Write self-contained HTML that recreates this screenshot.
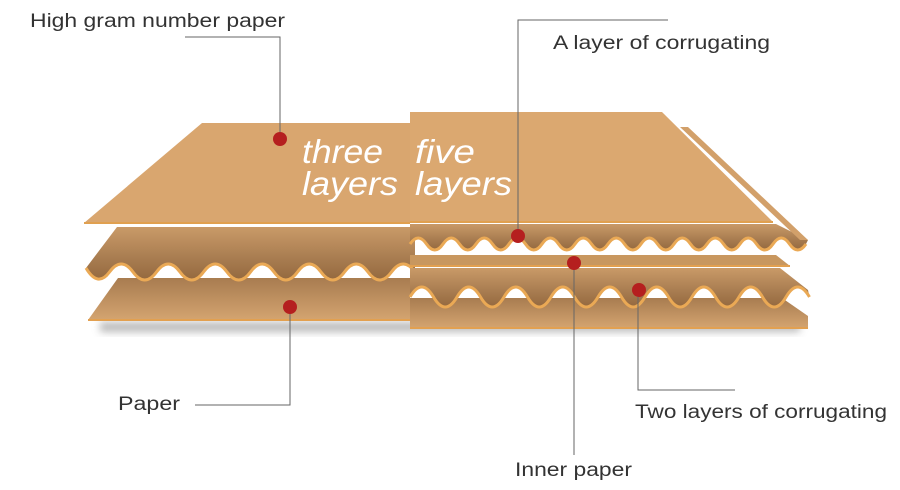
<!DOCTYPE html>
<html><head><meta charset="utf-8"><style>
html,body{margin:0;padding:0;background:#fff;}
svg{display:block;}
text{font-family:"Liberation Sans",sans-serif;}
</style></head><body>
<svg width="900" height="490" viewBox="0 0 900 490" xmlns="http://www.w3.org/2000/svg">
<defs>
<linearGradient id="corr" x1="0" y1="0" x2="0" y2="1">
<stop offset="0" stop-color="#c99a68"/><stop offset="0.6" stop-color="#a87c50"/><stop offset="1" stop-color="#94693f"/>
</linearGradient>
<linearGradient id="bot" x1="0" y1="0" x2="0" y2="1">
<stop offset="0" stop-color="#a87c50"/><stop offset="1" stop-color="#d4a470"/>
</linearGradient>
<filter id="sh" x="-10%" y="-50%" width="120%" height="200%"><feGaussianBlur stdDeviation="4"/></filter>
</defs>
<rect x="100" y="322" width="700" height="10" fill="#777" opacity="0.5" filter="url(#sh)"/>

<!-- LEFT: three layers -->
<polygon points="118,278 410,278 410,320 88,320" fill="url(#bot)"/>
<line x1="88" y1="320" x2="410" y2="320" stroke="#e2a050" stroke-width="2"/>
<path d="M86,268 Q97.75,288 109.5,272 T133,272 T156.5,272 T180,272 T203.5,272 T227,272 T250.5,272 T274,272 T297.5,272 T321,272 T344.5,272 T368,272 T391.5,272 T415,272 L415,227 L117,227 Z" fill="url(#corr)"/>
<path d="M86,268 Q97.75,288 109.5,272 T133,272 T156.5,272 T180,272 T203.5,272 T227,272 T250.5,272 T274,272 T297.5,272 T321,272 T344.5,272 T368,272 T391.5,272 T415,272" fill="none" stroke="#eaa955" stroke-width="3"/>
<polygon points="202,123 410,123 410,223 84,223" fill="#d9a66f"/>
<line x1="84" y1="223" x2="410" y2="223" stroke="#e0a050" stroke-width="2"/>

<!-- RIGHT: five layers -->
<polygon points="410,298 782,298 808,316 808,328 410,328" fill="url(#bot)"/>
<line x1="410" y1="328" x2="808" y2="328" stroke="#e2a050" stroke-width="2"/>
<path d="M410,297 Q421.75,277 433.5,297 T457,297 T480.5,297 T504,297 T527.5,297 T551,297 T574.5,297 T598,297 T621.5,297 T645,297 T668.5,297 T692,297 T715.5,297 T739,297 T762.5,297 T786,297 T809.5,297 L808,290 L780,268 L410,268 Z" fill="url(#corr)"/>
<path d="M410,297 Q421.75,277 433.5,297 T457,297 T480.5,297 T504,297 T527.5,297 T551,297 T574.5,297 T598,297 T621.5,297 T645,297 T668.5,297 T692,297 T715.5,297 T739,297 T762.5,297 T786,297 T809.5,297" fill="none" stroke="#eaa955" stroke-width="3"/>
<polygon points="410,255 776,255 790,266 410,266" fill="#c8975f"/>
<line x1="410" y1="266" x2="790" y2="266" stroke="#e2a050" stroke-width="2"/>
<path d="M410,244 Q418.25,232 426.5,244 T443,244 T459.5,244 T476,244 T492.5,244 T509,244 T525.5,244 T542,244 T558.5,244 T575,244 T591.5,244 T608,244 T624.5,244 T641,244 T657.5,244 T674,244 T690.5,244 T707,244 T723.5,244 T740,244 T756.5,244 T773,244 T789.5,244 T806,244 L808,240 L776,224 L410,224 Z" fill="url(#corr)"/>
<path d="M410,244 Q418.25,232 426.5,244 T443,244 T459.5,244 T476,244 T492.5,244 T509,244 T525.5,244 T542,244 T558.5,244 T575,244 T591.5,244 T608,244 T624.5,244 T641,244 T657.5,244 T674,244 T690.5,244 T707,244 T723.5,244 T740,244 T756.5,244 T773,244 T789.5,244 T806,244" fill="none" stroke="#eaa955" stroke-width="3"/>
<polygon points="680,127 688,127 808,240 800,240" fill="#d2a06a"/>
<polygon points="410,112 662,112 773,222 410,222" fill="#dba870"/>
<line x1="410" y1="222" x2="773" y2="222" stroke="#e0a050" stroke-width="2"/>

<g fill="#fff" font-style="italic" font-size="33">
<text x="302" y="163" textLength="81" lengthAdjust="spacingAndGlyphs">three</text>
<text x="302" y="195" textLength="96" lengthAdjust="spacingAndGlyphs">layers</text>
<text x="415" y="163" textLength="60" lengthAdjust="spacingAndGlyphs">five</text>
<text x="415" y="195" textLength="97" lengthAdjust="spacingAndGlyphs">layers</text>
</g>

<g stroke="#666" stroke-width="1" fill="none">
<polyline points="185,37 280,37 280,138"/>
<polyline points="668,20 518,20 518,236"/>
<polyline points="195,405 290,405 290,306"/>
<line x1="574" y1="262" x2="574" y2="455"/>
<polyline points="638,290 638,390 735,390"/>
</g>
<g fill="#b51f1f">
<circle cx="280" cy="139" r="7"/>
<circle cx="518" cy="236" r="7"/>
<circle cx="290" cy="307" r="7"/>
<circle cx="574" cy="263" r="7"/>
<circle cx="639" cy="290" r="7"/>
</g>

<g fill="#333" font-size="19">
<text x="30" y="27" textLength="255" lengthAdjust="spacingAndGlyphs">High gram number paper</text>
<text x="553" y="49" textLength="217" lengthAdjust="spacingAndGlyphs">A layer of corrugating</text>
<text x="118" y="410" textLength="62" lengthAdjust="spacingAndGlyphs">Paper</text>
<text x="635" y="418" textLength="252" lengthAdjust="spacingAndGlyphs">Two layers of corrugating</text>
<text x="515" y="476" textLength="117" lengthAdjust="spacingAndGlyphs">Inner paper</text>
</g>
</svg>
</body></html>
